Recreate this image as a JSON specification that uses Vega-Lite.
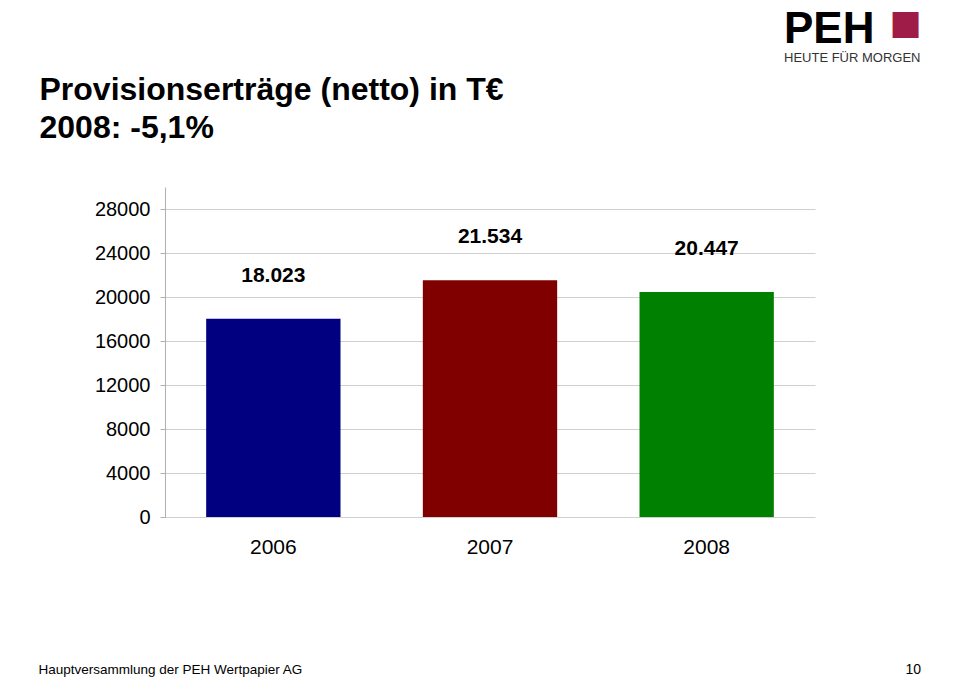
{
  "$schema": "https://vega.github.io/schema/vega-lite/v6.json",
  "width": 650,
  "height": 330,
  "autosize": {"type": "none"},
  "padding": {"left": 165, "top": 187, "right": 144, "bottom": 163},
  "background": "white",
  "data": {"values": [
    {"year": "2006", "value": 18023, "label": "18.023"},
    {"year": "2007", "value": 21534, "label": "21.534"},
    {"year": "2008", "value": 20447, "label": "20.447"}
  ]},
  "title": {
    "text": "PEH",
    "subtitle": "HEUTE FÜR MORGEN",
    "anchor": "start",
    "frame": "group",
    "dx": 619,
    "dy": 63,
    "font": "Liberation Sans",
    "fontSize": 44,
    "fontWeight": "bold",
    "color": "#000000",
    "subtitleFont": "Liberation Sans",
    "subtitleFontSize": 13,
    "subtitleColor": "#333333",
    "subtitlePadding": 0
  },
  "config": {"view": {"stroke": null}, "font": "Liberation Sans"},
  "resolve": {"axis": {"x": "independent", "y": "independent"}},
  "layer": [
    {
      "mark": {"type": "bar"},
      "encoding": {
        "x": {
          "field": "year", "type": "nominal",
          "scale": {"paddingInner": 0.38, "paddingOuter": 0.19},
          "axis": {
            "orient": "bottom", "domain": false, "ticks": false, "grid": false,
            "labelAngle": 0, "labelFont": "Liberation Sans", "labelFontSize": 21,
            "labelColor": "#000000", "labelPadding": 19,
            "title": "Hauptversammlung der PEH Wertpapier AG",
            "titleFont": "Liberation Sans", "titleFontSize": 13.5, "titleFontWeight": "normal",
            "titleColor": "#000000", "titleX": -127, "titleY": 156,
            "titleAlign": "left", "titleBaseline": "alphabetic"
          }
        },
        "y": {
          "field": "value", "type": "quantitative",
          "scale": {"domain": [0, 30000]},
          "axis": {
            "values": [0, 4000, 8000, 12000, 16000, 20000, 24000, 28000],
            "grid": true, "gridColor": "#cfcfcf", "domainColor": "#b0b0b0",
            "tickColor": "#b0b0b0", "tickSize": 5,
            "labelFont": "Liberation Sans", "labelFontSize": 20, "labelColor": "#000000",
            "labelPadding": 10, "format": "d",
            "title": ["Provisionserträge (netto) in T€", "2008: -5,1%"],
            "titleFont": "Liberation Sans", "titleFontSize": 32, "titleFontWeight": "bold",
            "titleColor": "#000000", "titleAngle": 0, "titleX": -126, "titleY": -88,
            "titleAlign": "left", "titleBaseline": "alphabetic", "titleLineHeight": 38
          }
        },
        "color": {
          "field": "year", "type": "nominal",
          "scale": {"range": ["#000080", "#800000", "#008000"]},
          "legend": null
        }
      }
    },
    {
      "mark": {"type": "text", "dy": -43, "fontSize": 21, "fontWeight": "bold", "font": "Liberation Sans", "color": "#000000"},
      "encoding": {
        "x": {
          "field": "year", "type": "nominal",
          "axis": {
            "orient": "top", "domain": false, "ticks": false, "labels": false, "grid": false,
            "title": "■", "titleFont": "DejaVu Sans", "titleFontSize": 34, "titleFontWeight": "normal",
            "titleColor": "#a01c48", "titleX": 724, "titleY": -154,
            "titleAlign": "left", "titleBaseline": "alphabetic"
          }
        },
        "y": {
          "field": "value", "type": "quantitative",
          "axis": {
            "orient": "right", "domain": false, "ticks": false, "labels": false, "grid": false,
            "title": "10", "titleFont": "Liberation Sans", "titleFontSize": 14, "titleFontWeight": "normal",
            "titleColor": "#000000", "titleAngle": 0, "titleX": 90, "titleY": 486,
            "titleAlign": "left", "titleBaseline": "alphabetic"
          }
        },
        "text": {"field": "label"}
      }
    }
  ]
}
